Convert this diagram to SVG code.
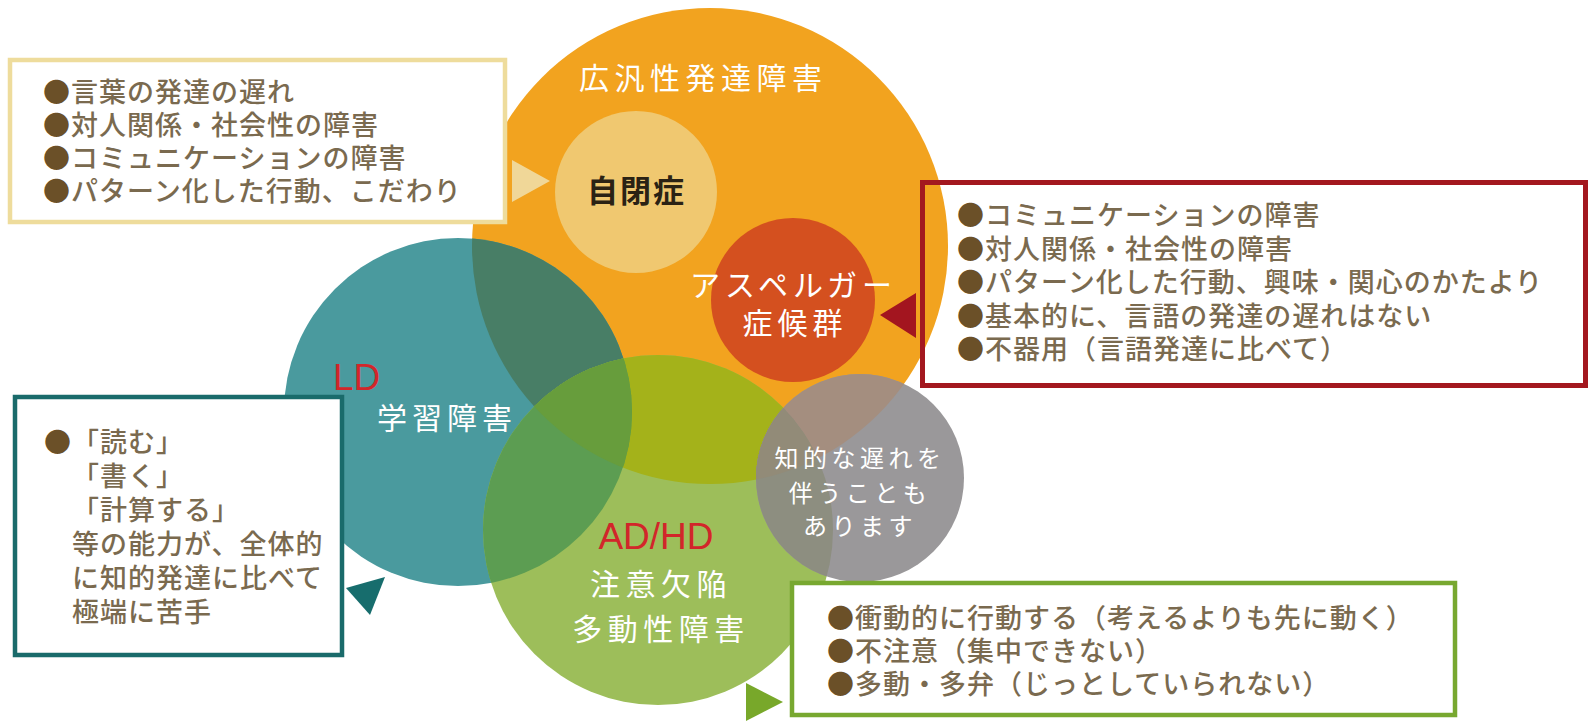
<svg xmlns="http://www.w3.org/2000/svg" width="1589" height="722" viewBox="0 0 1589 722">
<style>
.jp{font-family:"Noto Sans CJK JP","Noto Sans CJK SC",sans-serif}
.box{fill:#ffffff;stroke-width:4.5}
.bt{font-family:"Noto Sans CJK JP",sans-serif;font-size:27px;font-weight:500;letter-spacing:1px;fill:#7a6a4f}
.b{font-family:"Noto Sans CJK JP",sans-serif;font-size:27px;fill:#6b5028}
.wl{font-family:"Noto Sans CJK JP",sans-serif;font-size:30px;fill:#ffffff}
.red{font-family:"Liberation Sans",Arial,sans-serif;font-size:37px;fill:#d2262a}
</style>
<defs>
<clipPath id="cO"><circle cx="710" cy="246" r="238"/></clipPath>
<clipPath id="cT"><circle cx="458" cy="412" r="174"/></clipPath>
<clipPath id="cG"><circle cx="658" cy="530" r="175"/></clipPath>
</defs>
<rect x="0" y="0" width="1589" height="722" fill="#ffffff"/>

<g id="pdd">
<circle cx="710" cy="246" r="238" fill="#f2a31f"/>
<text class="wl" x="579" y="89" style="letter-spacing:5.5px">広汎性発達障害</text>
</g>

<g id="ld">
<circle cx="458" cy="412" r="174" fill="#4a9a9e"/>
<circle cx="458" cy="412" r="174" fill="#487e66" clip-path="url(#cO)"/>
</g>

<g id="adhd">
<circle cx="658" cy="530" r="175" fill="#9dbe5a"/>
<circle cx="658" cy="530" r="175" fill="#a4b21a" clip-path="url(#cO)"/>
<circle cx="658" cy="530" r="175" fill="#5c9d52" clip-path="url(#cT)"/>
<g clip-path="url(#cO)"><circle cx="658" cy="530" r="175" fill="#679d3c" clip-path="url(#cT)"/></g>
</g>

<g id="autism">
<circle cx="636" cy="192" r="81" fill="#f0c870"/>
<text class="jp" x="587" y="202" font-size="31" font-weight="bold" fill="#2b2214" style="letter-spacing:2px">自閉症</text>
</g>

<g id="asperger">
<circle cx="793" cy="300" r="82" fill="#d4501f"/>
<text class="wl" x="690" y="296" style="letter-spacing:5px">アスペルガー</text>
<text class="wl" x="795" y="334" text-anchor="middle" style="letter-spacing:5px">症候群</text>
</g>

<g id="ld-label">
<text class="red" x="333" y="390">LD</text>
<text class="wl" x="447" y="429" text-anchor="middle" style="letter-spacing:5px">学習障害</text>
</g>

<g id="adhd-label">
<text class="red" x="656" y="549" text-anchor="middle">AD/HD</text>
<text class="wl" x="661" y="595" text-anchor="middle" style="letter-spacing:5.5px">注意欠陥</text>
<text class="wl" x="661" y="640" text-anchor="middle" style="letter-spacing:5.5px">多動性障害</text>
</g>

<g id="intellectual">
<circle cx="860" cy="478" r="104" fill="#9a989a"/>
<circle cx="860" cy="478" r="104" fill="#a48e7f" clip-path="url(#cO)"/>
<circle cx="860" cy="478" r="104" fill="#8d8e80" clip-path="url(#cG)"/>
<g clip-path="url(#cO)"><circle cx="860" cy="478" r="104" fill="#928b78" clip-path="url(#cG)"/></g>
<g class="jp" font-size="24" fill="#ffffff" text-anchor="middle" style="letter-spacing:4.5px">
<text x="860" y="467">知的な遅れを</text>
<text x="860" y="502">伴うことも</text>
<text x="860" y="535">あります</text>
</g>
</g>

<g id="box-autism">
<rect class="box" x="10" y="60" width="495" height="162" stroke="#eedc9c"/>
<text class="b" x="43" y="102">●</text><text class="bt" x="71" y="102">言葉の発達の遅れ</text>
<text class="b" x="43" y="135">●</text><text class="bt" x="71" y="135">対人関係・社会性の障害</text>
<text class="b" x="43" y="168">●</text><text class="bt" x="71" y="168">コミュニケーションの障害</text>
<text class="b" x="43" y="201">●</text><text class="bt" x="71" y="201">パターン化した行動、こだわり</text>
</g>

<g id="box-asperger">
<rect x="922.5" y="182.5" width="663" height="203" fill="none" stroke="#a3181f" stroke-width="5"/>
<text class="b" x="957" y="225">●</text><text class="bt" x="985" y="225">コミュニケーションの障害</text>
<text class="b" x="957" y="258.5">●</text><text class="bt" x="985" y="258.5">対人関係・社会性の障害</text>
<text class="b" x="957" y="292">●</text><text class="bt" x="985" y="292">パターン化した行動、興味・関心のかたより</text>
<text class="b" x="957" y="325.5">●</text><text class="bt" x="985" y="325.5">基本的に、言語の発達の遅れはない</text>
<text class="b" x="957" y="359">●</text><text class="bt" x="985" y="359">不器用（言語発達に比べて）</text>
</g>

<g id="box-ld">
<rect class="box" x="15" y="397" width="327" height="258" stroke="#1a6b6b"/>
<text class="b" x="44" y="452">●</text><text class="bt" x="72" y="452">「読む」</text>
<text class="bt" x="72" y="486">「書く」</text>
<text class="bt" x="72" y="520">「計算する」</text>
<text class="bt" x="72" y="554">等の能力が、全体的</text>
<text class="bt" x="72" y="588">に知的発達に比べて</text>
<text class="bt" x="72" y="622">極端に苦手</text>
</g>

<g id="box-adhd">
<rect class="box" x="792" y="583" width="663" height="132" stroke="#78a830"/>
<text class="b" x="827" y="628">●</text><text class="bt" x="855" y="628">衝動的に行動する（考えるよりも先に動く）</text>
<text class="b" x="827" y="661">●</text><text class="bt" x="855" y="661">不注意（集中できない）</text>
<text class="b" x="827" y="694">●</text><text class="bt" x="855" y="694">多動・多弁（じっとしていられない）</text>
</g>

<g id="connectors">
<polygon points="512,160 550,181 512,202" fill="#f0d798"/>
<polygon points="880,315 916,293 916,338" fill="#a3151f"/>
<polygon points="346,588 385,577 370,615" fill="#176d6d"/>
<polygon points="746,683 783,702 746,721" fill="#78a82a"/>
</g>
</svg>
